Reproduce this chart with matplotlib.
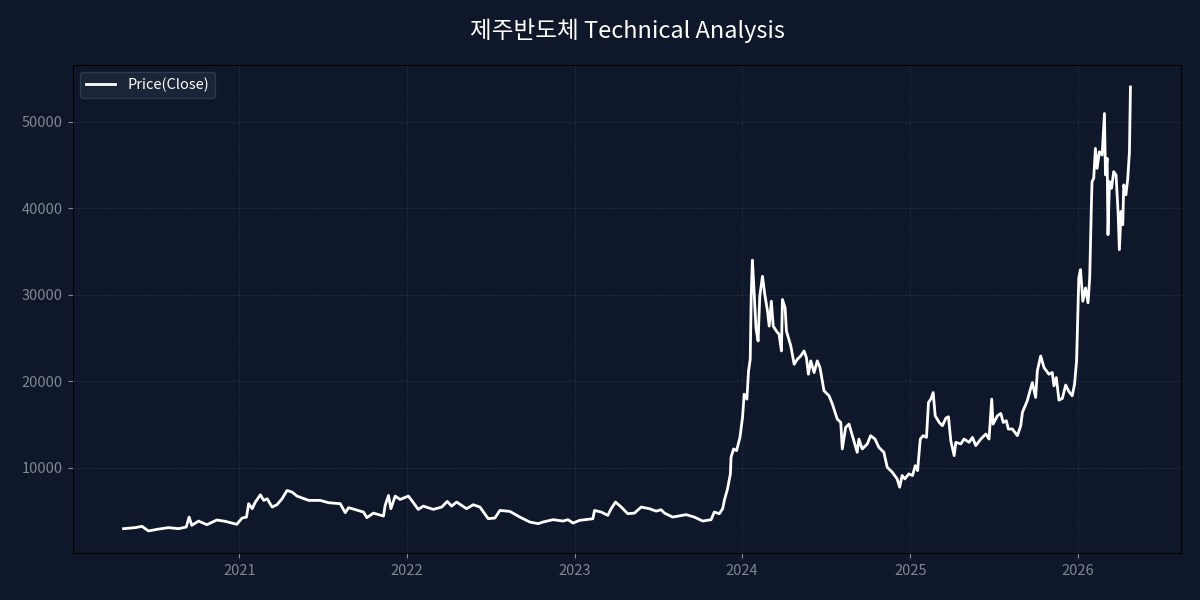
import matplotlib

matplotlib.use("Agg")
import matplotlib.dates as mdates
import matplotlib.pyplot as plt
import numpy as np
import pandas as pd

# Close price; dates are decimal years.
YEARS = [
    2020.311, 2020.381, 2020.421, 2020.460, 2020.510, 2020.579, 2020.639, 2020.685,
    2020.702, 2020.718, 2020.758, 2020.808, 2020.867, 2020.917, 2020.986, 2021.016,
    2021.042, 2021.055, 2021.076, 2021.095, 2021.125, 2021.145, 2021.165, 2021.195,
    2021.224, 2021.254, 2021.284, 2021.314, 2021.343, 2021.413, 2021.482, 2021.532,
    2021.601, 2021.631, 2021.651, 2021.740, 2021.760, 2021.799, 2021.859, 2021.869,
    2021.889, 2021.903, 2021.929, 2021.958, 2022.008, 2022.028, 2022.067, 2022.097,
    2022.157, 2022.207, 2022.240, 2022.266, 2022.296, 2022.355, 2022.395, 2022.435,
    2022.484, 2022.524, 2022.554, 2022.613, 2022.673, 2022.732, 2022.782, 2022.811,
    2022.871, 2022.930, 2022.960, 2022.990, 2023.030, 2023.109, 2023.119, 2023.159,
    2023.198, 2023.218, 2023.244, 2023.278, 2023.317, 2023.357, 2023.397, 2023.446,
    2023.486, 2023.516, 2023.536, 2023.585, 2023.665, 2023.714, 2023.764, 2023.814,
    2023.833, 2023.863, 2023.883, 2023.893, 2023.912, 2023.929, 2023.933, 2023.948,
    2023.966, 2023.986, 2024.002, 2024.012, 2024.028, 2024.038, 2024.048, 2024.054,
    2024.061, 2024.071, 2024.082, 2024.095, 2024.105, 2024.121, 2024.135, 2024.151,
    2024.161, 2024.174, 2024.185, 2024.204, 2024.220, 2024.234, 2024.240, 2024.256,
    2024.264, 2024.290, 2024.310, 2024.329, 2024.349, 2024.369, 2024.383, 2024.395,
    2024.409, 2024.429, 2024.448, 2024.464, 2024.488, 2024.518, 2024.538, 2024.567,
    2024.588, 2024.597, 2024.617, 2024.637, 2024.657, 2024.686, 2024.696, 2024.716,
    2024.746, 2024.766, 2024.792, 2024.815, 2024.845, 2024.865, 2024.895, 2024.924,
    2024.939, 2024.954, 2024.970, 2024.994, 2025.014, 2025.030, 2025.044, 2025.060,
    2025.077, 2025.097, 2025.109, 2025.123, 2025.137, 2025.149, 2025.173, 2025.192,
    2025.213, 2025.228, 2025.242, 2025.262, 2025.272, 2025.302, 2025.321, 2025.351,
    2025.371, 2025.391, 2025.421, 2025.451, 2025.470, 2025.486, 2025.494, 2025.520,
    2025.540, 2025.555, 2025.573, 2025.585, 2025.609, 2025.639, 2025.659, 2025.669,
    2025.698, 2025.728, 2025.748, 2025.758, 2025.778, 2025.798, 2025.827, 2025.847,
    2025.857, 2025.871, 2025.887, 2025.907, 2025.927, 2025.946, 2025.966, 2025.980,
    2025.992, 2026.006, 2026.016, 2026.030, 2026.046, 2026.061, 2026.071, 2026.081,
    2026.085, 2026.095, 2026.105, 2026.115, 2026.129, 2026.145, 2026.159, 2026.165,
    2026.175, 2026.180, 2026.189, 2026.201, 2026.214, 2026.228, 2026.240, 2026.248,
    2026.258, 2026.268, 2026.274, 2026.287, 2026.298, 2026.308, 2026.314,
]
CLOSE = [
    2930, 3050, 3200, 2660, 2850, 3050, 2930, 3120,
    4270, 3310, 3810, 3390, 3930, 3780, 3430, 4160,
    4270, 5820, 5240, 6010, 6850, 6200, 6390, 5430,
    5700, 6390, 7350, 7160, 6700, 6200, 6200, 5930,
    5820, 4780, 5360, 4850, 4200, 4730, 4390, 5620,
    6770, 5240, 6700, 6310, 6700, 6200, 5160, 5540,
    5160, 5430, 6080, 5540, 6010, 5240, 5700, 5430,
    4090, 4160, 5040, 4930, 4270, 3700, 3510, 3700,
    3970, 3810, 3970, 3580, 3890, 4080, 5040, 4850,
    4470, 5240, 6010, 5430, 4660, 4730, 5430, 5240,
    4960, 5120, 4730, 4270, 4550, 4270, 3810, 3970,
    4850, 4660, 5240, 6200, 7540, 9270, 11190, 12150,
    11960, 13490, 15800, 18490, 17920, 21180, 22530, 30020,
    34000, 30400, 26170, 24640, 29830, 32130, 30020, 28100,
    26370, 29250, 26370, 25790, 25410, 23490, 29450, 28480,
    25790, 24060, 21950, 22530, 22910, 23490, 22720, 20800,
    22340, 20990, 22340, 21560, 18880, 18300, 17340, 15610,
    15220, 12150, 14650, 15030, 13690, 11760, 13300, 12150,
    12730, 13690, 13300, 12340, 11760, 10030, 9460, 8690,
    7730, 9080, 8690, 9270, 9080, 10230, 9650, 13300,
    13690, 13490, 17530, 17920, 18680, 15990, 15220, 14840,
    15730, 15880, 13110, 11380, 12920, 12730, 13300, 12920,
    13490, 12540, 13300, 13880, 13300, 17920, 15030, 15990,
    16260, 15220, 15420, 14460, 14460, 13690, 14840, 16380,
    17730, 19840, 18110, 21180, 22910, 21560, 20800, 20990,
    19450, 20410, 17800, 18000, 19550, 18800, 18300, 19650,
    22340, 31940, 32900, 29250, 30780, 29060, 31940, 40400,
    43080, 43470, 46920, 44620, 46540, 46150, 50960, 43860,
    45770, 36940, 43080, 42310, 44240, 43860, 39630, 35210,
    39630, 38090, 42700, 41550, 43470, 46540, 54030,
]

TITLE = "제주반도체 Technical Analysis"
LEGEND_LABEL = "Price(Close)"

BG = "#0f172a"
FONTS = ["Noto Sans CJK KR", "DejaVu Sans"]


def to_dates(years):
    out = []
    for y in years:
        yr = int(np.floor(y))
        out.append(pd.Timestamp(yr, 1, 1) + pd.Timedelta(days=(y - yr) * 365.25))
    return out


def main():
    plt.rcParams["font.family"] = FONTS
    dates = to_dates(YEARS)

    fig, ax = plt.subplots(figsize=(12, 6), dpi=100)
    fig.patch.set_facecolor(BG)
    ax.set_facecolor(BG)
    fig.subplots_adjust(left=0.061, right=0.984, top=0.892, bottom=0.078)

    ax.plot(dates, CLOSE, color="white", linewidth=2, label=LEGEND_LABEL)

    ax.xaxis.set_major_locator(mdates.YearLocator())
    ax.xaxis.set_major_formatter(mdates.DateFormatter("%Y"))
    ax.grid(True, color="#334155", linestyle="--", linewidth=0.6, alpha=0.5)
    ax.tick_params(colors="#7f8794", labelsize=10.5, pad=4)
    for sp in ax.spines.values():
        sp.set_color("black")

    ax.set_title(TITLE, color="white", fontsize=17, pad=19)
    leg = ax.legend(loc="upper left", facecolor="#1e293b", edgecolor="#334155",
                    fontsize=10.5)
    for t in leg.get_texts():
        t.set_color("white")

    fig.savefig("out.png", facecolor=BG)
    plt.close(fig)


if __name__ == "__main__":
    main()
